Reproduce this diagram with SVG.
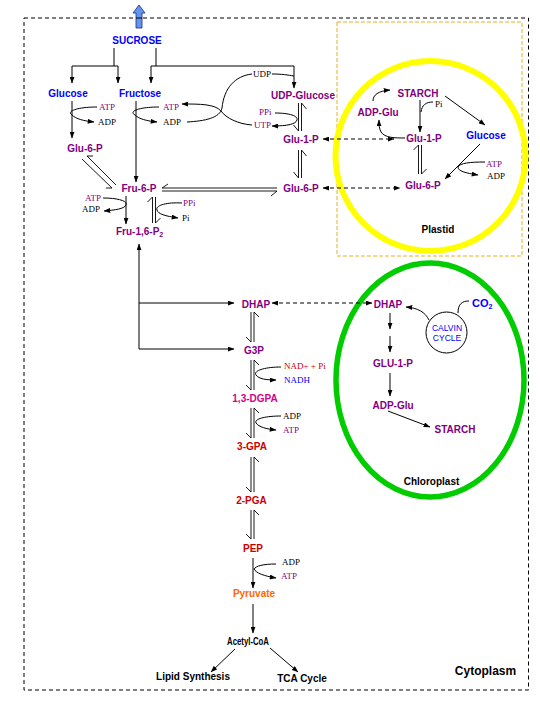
<svg xmlns="http://www.w3.org/2000/svg" width="540" height="720" viewBox="0 0 540 720">
<defs>
<marker id="ah" viewBox="0 0 8 6" refX="7.5" refY="3" markerWidth="7" markerHeight="5" markerUnits="userSpaceOnUse" orient="auto-start-reverse"><path d="M0,0 L8,3 L0,6 z" fill="#000"/></marker>
</defs>
<style>
.b{font-family:"Liberation Sans",Arial,sans-serif;font-weight:bold;font-size:10px;text-anchor:middle}
.s{font-family:"Liberation Serif","Times New Roman",serif;font-size:9px}
.pu{fill:#800080}.bl{fill:#0000ff}.rd{fill:#cc0000}.mg{fill:#d4008c}.or{fill:#ff6600}.bk{fill:#000}
.ln{stroke:#000;fill:none;stroke-width:1}
.ar{marker-end:url(#ah)}
.ar2{marker-start:url(#ah);marker-end:url(#ah)}
.dash{stroke-dasharray:4 3}
.eq{stroke:#000;fill:none;stroke-width:0.9}
</style>
<rect width="540" height="720" fill="#fff"/>

<g id="cytoplasm">
<rect x="24" y="18" width="504.5" height="672" fill="none" stroke="#000" stroke-width="1" stroke-dasharray="4 3"/>
<text class="b bk" x="485.5" y="675" style="font-size:12px">Cytoplasm</text>
</g>

<g id="export-arrow">
<path d="M139,5 L145,13 L142,13 L142,28 L136,28 L136,13 L133,13 z" fill="#6495ed" stroke="#1a2a80" stroke-width="0.8"/>
<line x1="136" y1="18" x2="142" y2="18" stroke="#000" stroke-width="1"/>
</g>

<g id="plastid">
<rect x="337" y="22" width="185" height="234" fill="none" stroke="#e8b020" stroke-width="1" stroke-dasharray="4 2"/>
<circle cx="430.5" cy="156" r="95" fill="none" stroke="#ffff00" stroke-width="6"/>
<text class="b bk" x="438" y="233">Plastid</text>
</g>

<g id="chloroplast">
<ellipse cx="430" cy="380" rx="94" ry="117" fill="none" stroke="#00cc00" stroke-width="5.5"/>
<text class="b bk" x="431.5" y="485">Chloroplast</text>
</g>

<g id="calvin-cycle">
<circle cx="446.5" cy="332.5" r="20.5" fill="#fff" stroke="#000" stroke-width="1"/>
<text x="447" y="331" style="font-family:'Liberation Sans',Arial,sans-serif;font-size:8.5px;text-anchor:middle" class="bl">CALVIN</text>
<text x="447" y="341" style="font-family:'Liberation Sans',Arial,sans-serif;font-size:8.5px;text-anchor:middle" class="bl">CYCLE</text>
</g>

<g id="connectors">
<!-- sucrose split -->
<path class="ln" d="M114,48 V66 M72,66 H118 M156,48 V66 M151,66 H294"/>
<path class="ln ar" d="M72,66 V83"/>
<path class="ln ar" d="M118,66 V83"/>
<path class="ln ar" d="M151,66 V83"/>
<path class="ln ar" d="M294,66 V88"/>
<!-- glucose -> glu-6-p -->
<path class="ln ar" d="M72,101 V138"/>
<path class="ln ar" d="M97,107 C78,107 66,111 72,115 C76,119 84,121 94,122"/>
<!-- fructose -> fru-6-p -->
<path class="ln ar" d="M136,101 V182"/>
<path class="ln ar" d="M159,107 C140,107 128,111 135,115 C139,119 147,121 157,122"/>
<!-- UDP / UTP cross curves -->
<path class="ln" d="M187,122 C205,121 220,118 222,108 C224,88 235,76 252,74"/>
<path class="ln" d="M272,74 C282,74 288,75 294,76"/>
<path class="ln ar" d="M252,125 C238,124 226,118 221,111 C215,104 200,104 182,104"/>
<path class="ln ar" d="M275,113 C290,113 298,116 297,120 C296,124 288,126 272,126"/>
<!-- UDP-Glucose <-> Glu-1-P -->
<path class="eq" d="M298.5,131 V103 M301.5,103 V131 M301.5,103 l5,6 M298.5,131 l-5,-6"/>
<!-- Glu-1-P <-> Glu-6-P cytoplasm -->
<path class="eq" d="M298.5,178 V150 M301.5,150 V178 M301.5,150 l5,6 M298.5,178 l-5,-6"/>
<!-- dashed to plastid -->
<path class="ln dash ar2" d="M323,139 H394"/>
<path class="ln dash ar2" d="M323,188 H400"/>
<!-- Glu-6-P <-> Fru-6-P diagonal -->
<path class="eq" d="M82,159 L112,188 L106,188 M87,156 L116,185 M87,156 L93,156"/>
<!-- Fru-6-P <-> Glu-6-P horizontal -->
<path class="eq" d="M162,188 H277 M162,188 l6,-4 M162,191 H277 M277,191 l-6,5"/>
<!-- Fru-6-P -> Fru-1,6-P2 -->
<path class="ln ar" d="M126,196 V224"/>
<path class="ln ar" d="M103,198 C118,198 128,201 126,205 C124,209 115,210 104,211"/>
<path class="eq" d="M152.5,223 V197 M152.5,197 l-5,5 M155.5,197 V223 M155.5,223 l5,-5"/>
<path class="ln ar" d="M182,203 C165,202 155,206 157,210 C158,214 165,216 178,218"/>
<!-- left feedback lines -->
<path class="ln ar" d="M139,349 V244"/>
<path class="ln ar" d="M139,303 H234"/>
<path class="ln ar" d="M139,349 H234"/>
<!-- DHAP dashed to chloroplast -->
<path class="ln dash ar2" d="M272,303 H372"/>
<!-- glycolysis equilibria -->
<path class="eq" d="M251,342 V312 M251,342 l-5,-5 M254,312 V342 M254,312 l5,5"/>
<path class="eq" d="M251,390 V360 M251,390 l-5,-5 M254,360 V390 M254,360 l5,5"/>
<path class="eq" d="M251,438 V408 M251,438 l-5,-5 M254,408 V438 M254,408 l5,5"/>
<path class="eq" d="M251,492 V457 M251,492 l-5,-5 M254,457 V492 M254,457 l5,5"/>
<path class="eq" d="M251,539 V510 M251,539 l-5,-5 M254,510 V539 M254,510 l5,5"/>
<!-- side reactions -->
<path class="ln ar" d="M281,367 C264,367 253,371 256,375 C259,379 266,380 276,380"/>
<path class="ln ar" d="M281,416 C265,416 254,419 256,423 C259,427 266,429 276,430"/>
<path class="ln ar" d="M253,558 V588"/>
<path class="ln ar" d="M276,564 C263,564 256,566 254,569 C256,573 264,576 276,578"/>
<path class="ln ar" d="M253,604 V633"/>
<path class="ln ar" d="M235,649 L211,672"/>
<path class="ln ar" d="M270,648 L298,672"/>
<!-- plastid reactions -->
<path class="ln ar" d="M373,101 C373,95 378,91 390,90"/>
<path class="ln ar" d="M405,138 C395,138 385,138 381,132 C379,128 379,125 379,120"/>
<path class="ln ar" d="M420,100 V132"/>
<path class="ln" d="M433,102 C426,102 422,105 421,112"/>
<path class="ln ar" d="M445,96 L485,125"/>
<path class="ln ar" d="M480,144 L445,179"/>
<path class="ln ar" d="M485,162 C470,162 460,163 458,167 C458,171 465,173 478,175"/>
<path class="eq" d="M418.5,174 V145 M418.5,145 l-5,5 M421.5,145 V174 M421.5,174 l5,-5"/>
<!-- chloroplast reactions -->
<path class="ln" d="M469,301 C462,301 458,304 458,313"/>
<path class="ln ar" d="M429,320 C425,312 418,308 406,307"/>
<path class="ln ar" d="M390,313 V329"/>
<path class="ln ar" d="M390,336 V352"/>
<path class="ln ar" d="M390,373 V396"/>
<path class="ln ar" d="M388,411 L430,427"/>
</g>

<g id="n-sucrose"><text class="b bl" x="137" y="44">SUCROSE</text></g>
<g id="n-glucose"><text class="b bl" x="68" y="97">Glucose</text></g>
<g id="n-fructose"><text class="b bl" x="140" y="97">Fructose</text></g>
<g id="n-udp-glucose"><text class="b pu" x="303" y="99">UDP-Glucose</text></g>
<g id="n-glu1p"><text class="b pu" x="301" y="143">Glu-1-P</text></g>
<g id="n-glu6p-right"><text class="b pu" x="301" y="192">Glu-6-P</text></g>
<g id="n-glu6p-left"><text class="b pu" x="85" y="152">Glu-6-P</text></g>
<g id="n-fru6p"><text class="b pu" x="139" y="192">Fru-6-P</text></g>
<g id="n-fru16p2"><text class="b pu" x="116" y="235" style="text-anchor:start">Fru-1,6-P<tspan dy="2" style="font-size:7px">2</tspan></text></g>
<g id="n-dhap"><text class="b pu" x="256" y="308">DHAP</text></g>
<g id="n-g3p"><text class="b pu" x="254" y="354">G3P</text></g>
<g id="n-13dgpa"><text class="b mg" x="255" y="402">1,3-DGPA</text></g>
<g id="n-3gpa"><text class="b rd" x="252" y="450">3-GPA</text></g>
<g id="n-2pga"><text class="b rd" x="251.5" y="504">2-PGA</text></g>
<g id="n-pep"><text class="b rd" x="253" y="552">PEP</text></g>
<g id="n-pyruvate"><text class="b or" x="254" y="597">Pyruvate</text></g>
<g id="n-acetylcoa"><text class="b bk" x="248" y="645" textLength="42" lengthAdjust="spacingAndGlyphs">Acetyl-CoA</text></g>
<g id="n-lipid"><text class="b bk" x="193" y="680">Lipid Synthesis</text></g>
<g id="n-tca"><text class="b bk" x="302" y="682">TCA Cycle</text></g>

<g id="n-plastid-starch"><text class="b pu" x="418" y="97">STARCH</text></g>
<g id="n-plastid-adpglu"><text class="b pu" x="378" y="116">ADP-Glu</text></g>
<g id="n-plastid-glu1p"><text class="b pu" x="424" y="142">Glu-1-P</text></g>
<g id="n-plastid-glucose"><text class="b bl" x="486" y="139">Glucose</text></g>
<g id="n-plastid-glu6p"><text class="b pu" x="423" y="189">Glu-6-P</text></g>

<g id="n-chl-dhap"><text class="b pu" x="388" y="308">DHAP</text></g>
<g id="n-co2"><text class="b bl" x="472" y="307" style="font-size:11px;text-anchor:start">CO<tspan dy="2" style="font-size:7px">2</tspan></text></g>
<g id="n-chl-glu1p"><text class="b pu" x="393" y="367">GLU-1-P</text></g>
<g id="n-chl-adpglu"><text class="b pu" x="393" y="409">ADP-Glu</text></g>
<g id="n-chl-starch"><text class="b pu" x="455" y="433">STARCH</text></g>

<g id="cofactors">
<text class="s pu" x="99" y="110">ATP</text>
<text class="s bk" x="98" y="125">ADP</text>
<text class="s pu" x="163" y="110">ATP</text>
<text class="s bk" x="163" y="125">ADP</text>
<text class="s bk" x="253" y="77">UDP</text>
<text class="s pu" x="259" y="115">PPi</text>
<text class="s pu" x="254" y="128">UTP</text>
<text class="s pu" x="85" y="201">ATP</text>
<text class="s bk" x="82" y="212">ADP</text>
<text class="s pu" x="183" y="206">PPi</text>
<text class="s bk" x="182" y="221">Pi</text>
<text class="s rd" x="284" y="369">NAD+ + Pi</text>
<text class="s bl" x="284" y="383">NADH</text>
<text class="s bk" x="283" y="419">ADP</text>
<text class="s pu" x="283" y="433">ATP</text>
<text class="s bk" x="282" y="565">ADP</text>
<text class="s pu" x="281" y="579">ATP</text>
<text class="s bk" x="435" y="107">Pi</text>
<text class="s pu" x="486" y="167">ATP</text>
<text class="s bk" x="487" y="179">ADP</text>
</g>
</svg>
